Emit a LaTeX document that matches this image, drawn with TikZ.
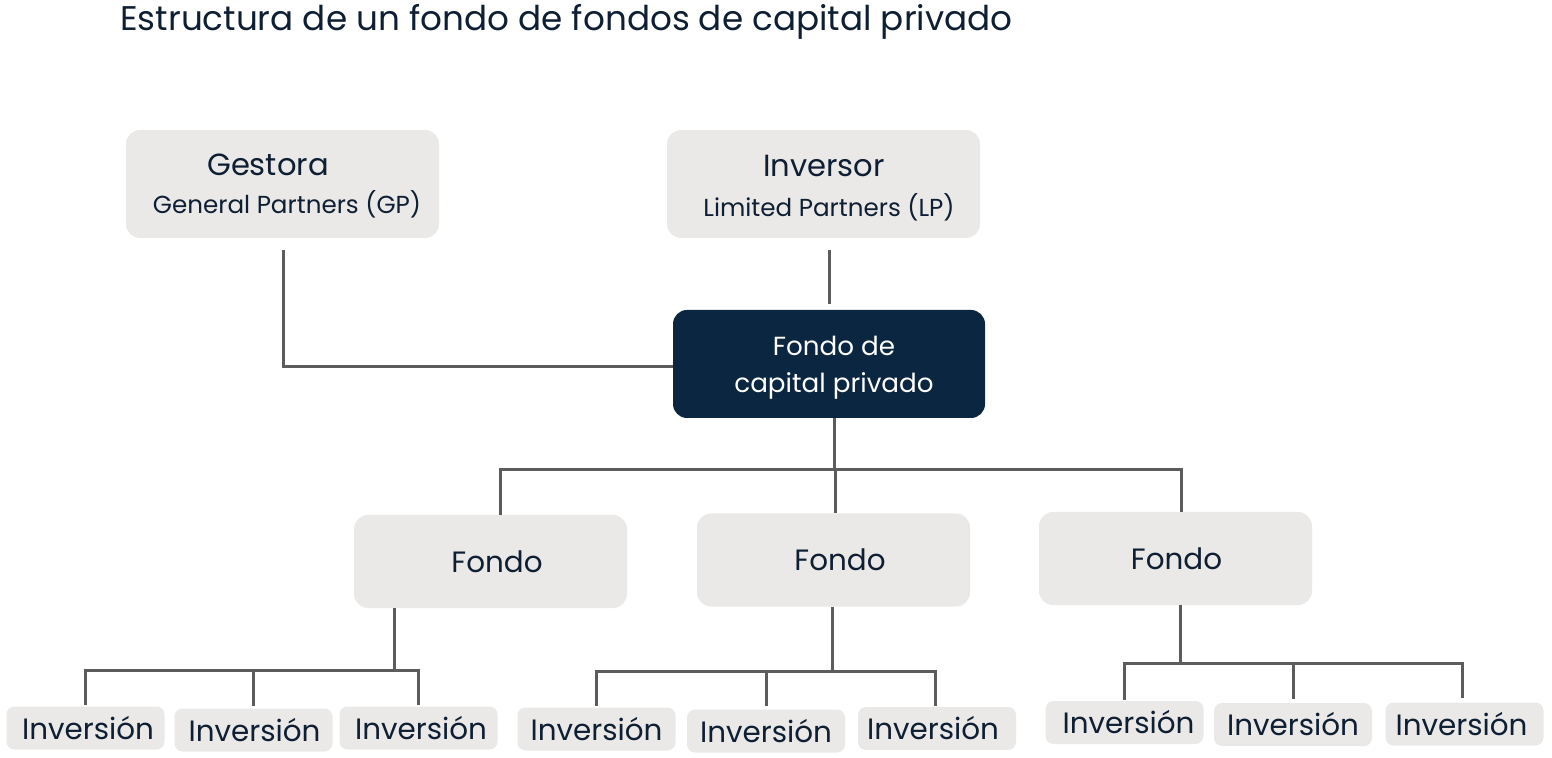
\documentclass[tikz,border=0pt]{standalone}
\usepackage{fontspec}
\setmainfont{Poppins}
\definecolor{boxgray}{HTML}{EAE9E7}
\definecolor{navy}{HTML}{0B2640}
\definecolor{txt}{HTML}{0E1E33}
\definecolor{conncol}{HTML}{5C5C5C}
\begin{document}
\begin{tikzpicture}[x=0.5pt,y=-0.5pt,
  bigbox/.style={fill=boxgray, rounded corners=7pt, inner sep=0pt, minimum width=156.5pt, minimum height=54pt},
  fbox/.style={fill=boxgray, rounded corners=7pt, inner sep=0pt, minimum width=136.5pt, minimum height=46.5pt, text=txt, font=\fontsize{14.7}{17}\selectfont},
  ibox/.style={fill=boxgray, rounded corners=4pt, inner sep=0pt, minimum width=79pt, minimum height=21.5pt, text=txt, font=\fontsize{14.7}{17}\selectfont},
  conn/.style={draw=conncol, line width=1.5pt},
  bigtxt/.style={text=txt, inner sep=0pt, font=\fontsize{15.3}{18}\selectfont},
  smalltxt/.style={text=txt, inner sep=0pt, font=\fontsize{12.3}{15}\selectfont},
  whitetxt/.style={text=white, inner sep=0pt, font=\fontsize{13.1}{16}\selectfont},
]
\useasboundingbox (0,0) rectangle (1552,758);

\node[anchor=base west, inner sep=0pt, text=txt, font=\fontsize{17.1}{20}\selectfont] (title) at (120,31) {Estructura de un fondo de fondos de capital privado};

% top boxes
\node[bigbox] (gp) at (282.5,184) {};
\node[bigtxt] (gpa) at (268,165) {Gestora};
\node[smalltxt] (gpb) at (287,204) {General Partners (GP)};

\node[bigbox] (lp) at (823.5,184) {};
\node[bigtxt] (lpa) at (824,166) {Inversor};
\node[smalltxt] (lpb) at (829,207) {Limited Partners (LP)};

\node[fill=navy, rounded corners=7pt, inner sep=0pt, minimum width=156pt, minimum height=54pt] (pe) at (829,364) {};
\node[whitetxt] (pea) at (834,346) {Fondo de};
\node[whitetxt] (peb) at (834,386) {capital privado};

% fund boxes
\node[fbox] (f1) at (490.5,561.5) {\hspace*{6.5pt}Fondo};
\node[fbox] (f2) at (833.5,560) {\hspace*{6.5pt}Fondo};
\node[fbox] (f3) at (1175.5,558.5) {\hspace*{1pt}Fondo};

% investment boxes
\node[ibox] (a) at (85.5,728) {\hspace*{2.5pt}Inversión};
\node[ibox] (b) at (253.5,730) {\hspace*{1pt}Inversión};
\node[ibox] (c) at (418.5,728) {\hspace*{2.5pt}Inversión};
\node[ibox] (d) at (596.5,729) {Inversión};
\node[ibox] (e) at (766,731) {Inversión};
\node[ibox] (f) at (937,728.5) {Inversión\hspace*{4pt}};
\node[ibox] (g) at (1124.5,722.5) {\hspace*{4pt}Inversión};
\node[ibox] (h) at (1293,724.5) {Inversión};
\node[ibox] (i) at (1464.5,724) {Inversión\hspace*{3pt}};

% connectors top
\draw[conn] ([shift={(0.5,12)}]gp.south) |- ([yshift=-1.5pt]pe.west);
\coordinate (lpend) at ([yshift=-6pt]lp.south);
\draw[conn] (lpend -| pe.north) -- ([yshift=3pt]pe.north);

% bus to funds
\coordinate (bus1) at (0,470);
\coordinate (t0) at ([xshift=2.5pt]pe.south);
\coordinate (t1) at ([xshift=4.75pt]f1.north);
\coordinate (t2) at ([xshift=0.75pt]f2.north);
\coordinate (t3) at ([xshift=2.75pt]f3.north);
\draw[conn] (t0) -- (t0 |- bus1);
\draw[conn] (t1) -- (t1 |- bus1) -- (t3 |- bus1) -- (t3);
\draw[conn] (t2) -- (t2 |- bus1);

% fund 1 to investments
\coordinate (bus2) at (0,670);
\coordinate (s1) at ([xshift=-48.25pt]f1.south);
\draw[conn] (s1) -- (s1 |- bus2);
\draw[conn] ([yshift=0.5pt]a.north) -- (a.north |- bus2) -- (c.north |- bus2) -- ([yshift=0.5pt]c.north);
\draw[conn] ([yshift=1pt]b.north) -- (b.north |- bus2);

% fund 2 to investments
\coordinate (bus3) at (0,671);
\coordinate (s2) at ([xshift=-0.75pt]f2.south);
\draw[conn] (s2) -- (s2 |- bus3);
\draw[conn] ([yshift=0.5pt]d.north) -- (d.north |- bus3) -- ([xshift=-1pt]f.north |- bus3) -- ([shift={(-1pt,0.5pt)}]f.north);
\draw[conn] ([yshift=1.5pt]e.north) -- (e.north |- bus3);

% fund 3 to investments
\coordinate (bus4) at (0,663);
\coordinate (s3) at ([xshift=2.25pt]f3.south);
\draw[conn] (s3) -- (s3 |- bus4);
\draw[conn] ([yshift=0.5pt]g.north) -- (g.north |- bus4) -- ([xshift=-1.25pt]i.north |- bus4) -- ([shift={(-1.25pt,2pt)}]i.north);
\draw[conn] ([yshift=2pt]h.north) -- (h.north |- bus4);
\end{tikzpicture}
\end{document}
